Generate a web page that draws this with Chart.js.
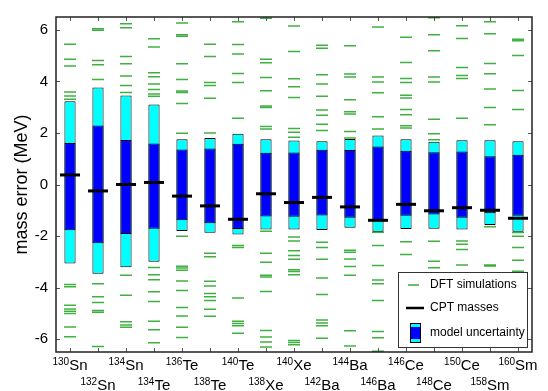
<!DOCTYPE html>
<html>
<head>
<meta charset="utf-8">
<script src="https://cdn.jsdelivr.net/npm/chart.js@4.4.1/dist/chart.umd.min.js"></script>
<style>
  html, body { margin: 0; padding: 0; background: #fff; }
</style>
</head>
<body>
<canvas id="massChart" width="548" height="391"></canvas>
<script>
// nuclei on the x axis
const massNumbers = ['130', '132', '134', '134', '136', '138', '140', '138', '140',
                     '142', '144', '146', '146', '148', '150', '158', '160'];
const elements = ['Sn', 'Sn', 'Sn', 'Te', 'Te', 'Te', 'Te', 'Xe', 'Xe',
                  'Ba', 'Ba', 'Ba', 'Ce', 'Ce', 'Ce', 'Sm', 'Sm'];
const tickLabels = massNumbers.map(function(a, i) { return a + elements[i]; });
const yTicks = [-6, -4, -2, 0, 2, 4, 6];

// model uncertainty (outer = cyan, inner = blue), MeV
const outerHigh = [3.23, 3.76, 3.45, 3.10, 1.76, 1.80, 1.97, 1.76, 1.71, 1.68, 1.77, 1.90, 1.76, 1.66, 1.72, 1.72, 1.68];
const outerLow  = [-3.07, -3.46, -3.21, -3.00, -1.80, -1.87, -1.94, -1.75, -1.75, -1.77, -1.68, -1.83, -1.73, -1.72, -1.75, -1.57, -1.83];
const innerHigh = [1.61, 2.29, 1.73, 1.59, 1.36, 1.40, 1.58, 1.23, 1.24, 1.35, 1.34, 1.47, 1.31, 1.25, 1.28, 1.10, 1.15];
const innerLow  = [-1.78, -2.28, -1.92, -1.72, -1.39, -1.50, -1.73, -1.24, -1.25, -1.20, -1.29, -1.43, -1.21, -1.16, -1.29, -1.12, -1.21];

// CPT measured masses
const cptMasses = [0.37, -0.25, 0.00, 0.08, -0.45, -0.83, -1.35, -0.36, -0.70, -0.50, -0.87, -1.39, -0.77, -1.02, -0.90, -1.00, -1.31];

// DFT simulation results, one list per nucleus
const dftValues = [
    [5.44, 4.86, 4.60, 3.59, 3.43, 3.31, -3.88, -3.97, -4.69, -4.83, -4.92, -5.01, -5.53, -5.91],
    [6.04, 5.99, 4.81, 4.65, 4.07, -3.85, -4.36, -4.58, -4.89, -4.96, -6.29],
    [6.24, 6.08, 4.97, 4.69, 4.21, 3.84, 3.57, -3.52, -4.30, -5.33, -5.45, -5.54],
    [5.66, 5.34, 4.34, 4.18, 3.90, 3.69, 3.51, 3.42, -3.22, -3.50, -3.70, -4.16, -4.54, -5.31, -5.64, -6.14],
    [6.27, 5.81, 5.75, 4.69, 4.07, 3.63, 3.57, 3.14, 1.99, -2.01, -3.17, -3.24, -3.33, -3.74, -4.11, -4.77, -5.10, -5.54, -5.94],
    [5.44, 4.97, 3.96, 3.84, 3.35, 2.00, -2.67, -2.80, -3.75, -3.94, -4.23, -4.36, -4.50, -4.84, -5.11],
    [6.32, 5.43, 5.06, 4.31, 3.96, 2.57, -2.37, -2.44, -4.40, -5.31, -5.39, -5.48, -5.77],
    [6.45, 4.86, 4.72, 4.15, 3.64, 3.05, 2.99, 2.25, 2.15, -1.81, -2.67, -3.02, -3.52, -3.59, -4.15, -5.67, -5.92, -6.11, -6.31],
    [6.15, 5.16, 4.10, 3.79, 3.38, 2.17, 2.03, 1.83, -2.04, -2.19, -2.57, -2.76, -2.90, -3.31, -3.38, -3.50, -6.05, -6.13, -6.22],
    [5.40, 5.29, 4.26, 3.90, 3.42, 2.89, 2.69, 2.34, 2.10, -2.24, -2.44, -2.90, -3.63, -4.27, -5.26, -5.37, -5.48, -5.97],
    [5.38, 4.29, 4.17, 3.29, 2.82, 2.74, 2.06, 1.80, -2.55, -2.63, -2.89, -3.18, -3.52, -5.68, -6.27],
    [6.11, 4.17, 3.98, 3.56, 2.63, 2.15, -1.85, -2.37, -3.14, -3.71, -3.85, -4.50, -5.70, -5.95, -6.47],
    [5.71, 4.73, 4.11, 3.96, 3.46, 3.36, 2.91, 2.71, 2.28, 2.19, -2.22, -2.72],
    [6.47, 5.81, 5.19, 4.17, 3.98, 2.53, 1.97, 1.74, -2.20, -2.98, -3.23],
    [6.16, 5.67, 4.54, 4.23, 4.11, 2.57, -2.19, -2.32, -2.52, -3.12],
    [6.32, 5.85, 4.70, 4.30, 3.71, 2.99, 2.32, -1.64, -3.12, -3.16],
    [5.64, 5.58, 5.01, 3.65, 2.91, -1.86, -2.01, -2.44, -2.94, -3.37]
];

const fontFamily = "'Liberation Sans', Arial, sans-serif";
const dftColor = 'rgba(0, 150, 0, 0.75)';

// Armar los puntos DFT como {x: etiqueta, y: valor}
const dftPoints = [];
dftValues.forEach(function(list, i) {
    list.forEach(function(v) {
        dftPoints.push({ x: tickLabels[i], y: v });
    });
});

// Marco, ticks hacia adentro, etiquetas con superíndice y leyenda
const framePlugin = {
    id: 'frame',
    afterDraw(chart) {
        const ctx = chart.ctx;
        const a = chart.chartArea;
        const x = chart.scales.x;
        const y = chart.scales.y;
        ctx.save();

        ctx.strokeStyle = '#555';
        ctx.lineWidth = 1;
        ctx.beginPath();
        yTicks.forEach(function(v) {
            const py = Math.round(y.getPixelForValue(v)) + 0.5;
            ctx.moveTo(a.left, py); ctx.lineTo(a.left + 4, py);
            ctx.moveTo(a.right, py); ctx.lineTo(a.right - 4, py);
        });
        tickLabels.forEach(function(l, i) {
            const px = Math.round(x.getPixelForValue(i)) + 0.5;
            ctx.moveTo(px, a.top); ctx.lineTo(px, a.top + 4);
            ctx.moveTo(px, a.bottom); ctx.lineTo(px, a.bottom - 4);
        });
        ctx.stroke();

        ctx.strokeStyle = '#222';
        ctx.lineWidth = 1.5;
        ctx.strokeRect(a.left, a.top, a.right - a.left, a.bottom - a.top);

        // etiquetas del eje X en dos filas
        ctx.fillStyle = '#000';
        ctx.textBaseline = 'alphabetic';
        ctx.textAlign = 'left';
        tickLabels.forEach(function(l, i) {
            const px = x.getPixelForValue(i);
            const base = a.bottom + (i % 2 ? 38 : 18);
            ctx.font = '10px ' + fontFamily;
            const wSup = ctx.measureText(massNumbers[i]).width;
            ctx.font = '15px ' + fontFamily;
            const wEl = ctx.measureText(elements[i]).width;
            const x0 = px - (wSup + wEl) / 2;
            ctx.font = '10px ' + fontFamily;
            ctx.fillText(massNumbers[i], x0, base - 5);
            ctx.font = '15px ' + fontFamily;
            ctx.fillText(elements[i], x0 + wSup, base);
        });

        // leyenda
        const bx = a.right - 134, by = a.bottom - 80, bw = 129, bh = 75;
        ctx.fillStyle = '#fff';
        ctx.fillRect(bx, by, bw, bh);
        ctx.strokeStyle = '#333';
        ctx.lineWidth = 1;
        ctx.strokeRect(bx + 0.5, by + 0.5, bw, bh);

        ctx.strokeStyle = dftColor;
        ctx.lineWidth = 1.6;
        ctx.beginPath();
        ctx.moveTo(bx + 10, by + 13); ctx.lineTo(bx + 21, by + 13);
        ctx.stroke();

        ctx.strokeStyle = '#000';
        ctx.lineWidth = 2.5;
        ctx.beginPath();
        ctx.moveTo(bx + 8, by + 36); ctx.lineTo(bx + 26, by + 36);
        ctx.stroke();

        ctx.fillStyle = '#00ffff';
        ctx.fillRect(bx + 12, by + 51, 11, 20);
        ctx.fillStyle = '#0000ff';
        ctx.fillRect(bx + 12, by + 55, 11, 12);
        ctx.strokeStyle = '#000';
        ctx.lineWidth = 1;
        ctx.strokeRect(bx + 12.5, by + 51.5, 10, 19);

        ctx.fillStyle = '#000';
        ctx.font = '12px ' + fontFamily;
        ctx.textBaseline = 'middle';
        ctx.fillText('DFT simulations', bx + 32, by + 13);
        ctx.fillText('CPT masses', bx + 32, by + 36);
        ctx.fillText('model uncertainty', bx + 32, by + 61);

        ctx.restore();
    }
};

const ctxMass = document.getElementById('massChart').getContext('2d');
const massChart = new Chart(ctxMass, {
    type: 'bar',
    data: {
        labels: tickLabels,
        datasets: [{
            type: 'line',
            label: 'CPT masses',
            data: cptMasses,
            showLine: false,
            pointStyle: 'line',
            pointRadius: 10,
            pointBorderWidth: 3,
            borderColor: '#000',
            order: 0
        }, {
            label: 'model uncertainty (inner)',
            data: innerLow.map(function(lo, i) { return [lo, innerHigh[i]]; }),
            backgroundColor: '#0000ff',
            borderColor: '#000',
            borderWidth: 1,
            borderSkipped: false,
            grouped: false,
            barPercentage: 0.4,
            categoryPercentage: 1.0,
            order: 1
        }, {
            label: 'model uncertainty',
            data: outerLow.map(function(lo, i) { return [lo, outerHigh[i]]; }),
            backgroundColor: '#00ffff',
            borderColor: '#000',
            borderWidth: 1,
            borderSkipped: false,
            grouped: false,
            barPercentage: 0.4,
            categoryPercentage: 1.0,
            order: 2
        }, {
            type: 'line',
            label: 'DFT simulations',
            data: dftPoints,
            showLine: false,
            pointStyle: 'line',
            pointRadius: 6,
            pointBorderWidth: 1.5,
            borderColor: dftColor,
            order: 3
        }]
    },
    options: {
        responsive: false,
        animation: false,
        events: [],
        layout: {
            padding: { top: 12, right: 16, left: 0, bottom: 0 }
        },
        plugins: {
            legend: { display: false },
            tooltip: { enabled: false }
        },
        scales: {
            x: {
                grid: { display: false, drawTicks: false },
                border: { display: false },
                ticks: { display: false },
                afterFit: function(scale) { scale.height = 39; }
            },
            y: {
                min: -6.5,
                max: 6.5,
                grid: { display: false, drawTicks: false },
                border: { display: false },
                ticks: {
                    stepSize: 2,
                    includeBounds: false,
                    padding: 8,
                    color: '#000',
                    font: { family: fontFamily, size: 15 }
                },
                title: {
                    display: true,
                    text: 'mass error (MeV)',
                    color: '#000',
                    font: { family: fontFamily, size: 18 },
                    padding: { top: 11, bottom: 0 }
                },
                afterFit: function(scale) { scale.width = 56; }
            }
        }
    },
    plugins: [framePlugin]
});
</script>
</body>
</html>
